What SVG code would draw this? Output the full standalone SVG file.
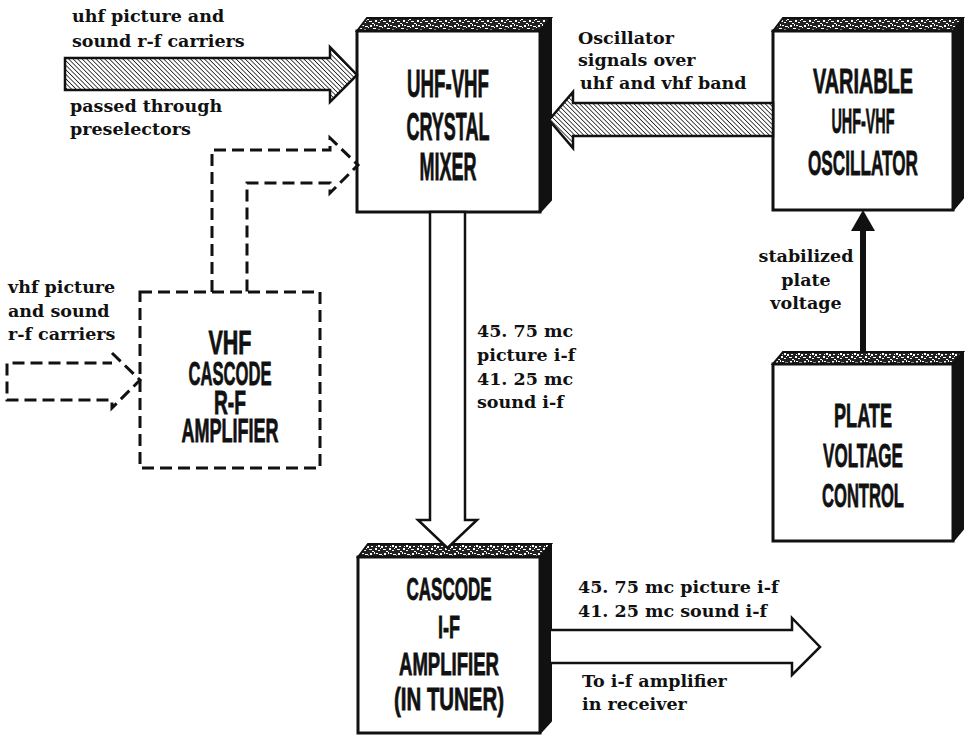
<svg xmlns="http://www.w3.org/2000/svg" width="970" height="735" viewBox="0 0 970 735">
<style>
.lbl{font-family:"DejaVu Serif","Liberation Serif",serif;font-size:17.5px;font-weight:bold;fill:#111}
.bx{font-family:"Liberation Sans Narrow","Liberation Sans",Arial,sans-serif;font-weight:bold;text-anchor:middle;fill:#111;stroke:#111;stroke-width:0.8}
.face{fill:#fff;stroke:#111;stroke-width:3}
.top{fill:url(#speck);stroke:#111;stroke-width:2}
.side{fill:#111;stroke:#111;stroke-width:2;stroke-linejoin:round}
.hatch{fill:url(#hatch);stroke:#111;stroke-width:2.5;stroke-linejoin:miter}
.open{fill:#fff;stroke:#111;stroke-width:2.5}
.dash{fill:none;stroke:#111;stroke-width:3;stroke-dasharray:12 6}
</style>
<defs>
<pattern id="hatch" width="3.2" height="3.2" patternUnits="userSpaceOnUse" patternTransform="rotate(-45)">
<rect width="3.2" height="3.2" fill="#fff"/>
<line x1="0" y1="0" x2="0" y2="3.2" stroke="#111" stroke-width="1.5"/>
</pattern>
<pattern id="speck" width="14" height="12" patternUnits="userSpaceOnUse">
<rect width="14" height="12" fill="#222"/>
<path d="M1 2h3v1h-3z M6 1h2v2h-2z M9 4h3v1h-3z M3 6h2v2h-2z M5 9h3v1h-3z M11 8h2v2h-2z M0 10h2v1h-2z M8 11h2v1h-2z M12 1h2v1h-2z M0 5h2v2h-2z M7 6h2v1h-2z M10 0h1v2h-1z M4 3h1v1h-1z M12 6h1v1h-1z M2 8h1v1h-1z" fill="#fff"/>
</pattern>
</defs>
<rect width="970" height="735" fill="#fff"/>

<g id="mixer">
<polygon class="top" points="357,31 367,18 551,18 540,31"/>
<polygon class="side" points="540,31 551,18 551,200 540,212"/>
<rect class="face" x="357" y="31" width="183" height="181"/>
<text class="bx" font-size="39" x="448" y="97" textLength="82" lengthAdjust="spacingAndGlyphs">UHF-VHF</text>
<text class="bx" font-size="39" x="448" y="140" textLength="83" lengthAdjust="spacingAndGlyphs">CRYSTAL</text>
<text class="bx" font-size="39" x="448" y="180" textLength="57" lengthAdjust="spacingAndGlyphs">MIXER</text>
</g>

<g id="oscillator">
<polygon class="top" points="773,31 783,18 963,18 953,31"/>
<polygon class="side" points="953,31 963,18 963,198 953,210"/>
<rect class="face" x="773" y="31" width="180" height="179"/>
<text class="bx" font-size="35" x="863" y="93" textLength="100" lengthAdjust="spacingAndGlyphs">VARIABLE</text>
<text class="bx" font-size="35" x="863" y="133" textLength="63" lengthAdjust="spacingAndGlyphs">UHF-VHF</text>
<text class="bx" font-size="35" x="863" y="175" textLength="110" lengthAdjust="spacingAndGlyphs">OSCILLATOR</text>
</g>

<g id="plate">
<polygon class="top" points="773,364 783,352 963,352 953,364"/>
<polygon class="side" points="953,364 963,352 963,529 953,541"/>
<rect class="face" x="773" y="364" width="180" height="177"/>
<text class="bx" font-size="34" x="863" y="427" textLength="58" lengthAdjust="spacingAndGlyphs">PLATE</text>
<text class="bx" font-size="34" x="863" y="467" textLength="80" lengthAdjust="spacingAndGlyphs">VOLTAGE</text>
<text class="bx" font-size="34" x="863" y="507" textLength="82" lengthAdjust="spacingAndGlyphs">CONTROL</text>
</g>

<g id="cascode-if">
<polygon class="top" points="358,557 368,544 551,544 540,557"/>
<polygon class="side" points="540,557 551,544 551,721 540,733"/>
<rect class="face" x="358" y="557" width="182" height="176"/>
<text class="bx" font-size="32" x="449" y="600" textLength="85" lengthAdjust="spacingAndGlyphs">CASCODE</text>
<text class="bx" font-size="32" x="449" y="638" textLength="22" lengthAdjust="spacingAndGlyphs">I-F</text>
<text class="bx" font-size="32" x="449" y="675" textLength="100" lengthAdjust="spacingAndGlyphs">AMPLIFIER</text>
<text class="bx" font-size="32" x="449" y="710" textLength="110" lengthAdjust="spacingAndGlyphs">(IN TUNER)</text>
</g>

<g id="vhf-cascode">
<rect class="dash" x="140" y="292" width="180" height="176"/>
<text class="bx" font-size="33" x="230" y="354" textLength="43" lengthAdjust="spacingAndGlyphs">VHF</text>
<text class="bx" font-size="33" x="230" y="385" textLength="83" lengthAdjust="spacingAndGlyphs">CASCODE</text>
<text class="bx" font-size="33" x="230" y="414" textLength="32" lengthAdjust="spacingAndGlyphs">R-F</text>
<text class="bx" font-size="33" x="230" y="442" textLength="97" lengthAdjust="spacingAndGlyphs">AMPLIFIER</text>
</g>

<g id="connectors">
<polygon class="hatch" points="65,58 330,58 330,47 357,75 330,102 330,90 65,90"/>
<polygon class="hatch" points="773,103 573,103 573,92 549,120 573,148 573,136 773,136"/>
<polygon class="open" points="430,212 430,520 418,520 447.5,548 477,520 465,520 465,212"/>
<path class="open" d="M551 630 H792 V618 L820 647 L792 675 V663 H551"/>
<line x1="863" y1="352" x2="863" y2="226" stroke="#111" stroke-width="6"/>
<polygon points="851,231 863,210 875,231" fill="#111"/>
<path class="dash" d="M212 292 V150 H330 V138 L358 165 L330 193 V183 H247 V292"/>
<path class="dash" d="M112 353 L140 380 L112 408 V400 H7 V363 H112"/>
</g>

<g id="labels">
<text class="lbl" x="72" y="22">uhf picture and</text>
<text class="lbl" x="72" y="47">sound r-f carriers</text>
<text class="lbl" x="70" y="112">passed through</text>
<text class="lbl" x="70" y="135">preselectors</text>
<text class="lbl" x="578" y="44">Oscillator</text>
<text class="lbl" x="578" y="66">signals over</text>
<text class="lbl" x="580" y="89">uhf and vhf band</text>
<text class="lbl" x="806" y="262" text-anchor="middle">stabilized</text>
<text class="lbl" x="806" y="286" text-anchor="middle">plate</text>
<text class="lbl" x="806" y="309" text-anchor="middle">voltage</text>
<text class="lbl" x="8" y="293">vhf picture</text>
<text class="lbl" x="8" y="317">and sound</text>
<text class="lbl" x="8" y="340">r-f carriers</text>
<text class="lbl" x="477" y="337">45. 75 mc</text>
<text class="lbl" x="477" y="361">picture i-f</text>
<text class="lbl" x="477" y="385">41. 25 mc</text>
<text class="lbl" x="477" y="408">sound i-f</text>
<text class="lbl" x="578" y="593">45. 75 mc picture i-f</text>
<text class="lbl" x="578" y="617">41. 25 mc sound i-f</text>
<text class="lbl" x="582" y="687">To i-f amplifier</text>
<text class="lbl" x="582" y="710">in receiver</text>
</g>
</svg>
